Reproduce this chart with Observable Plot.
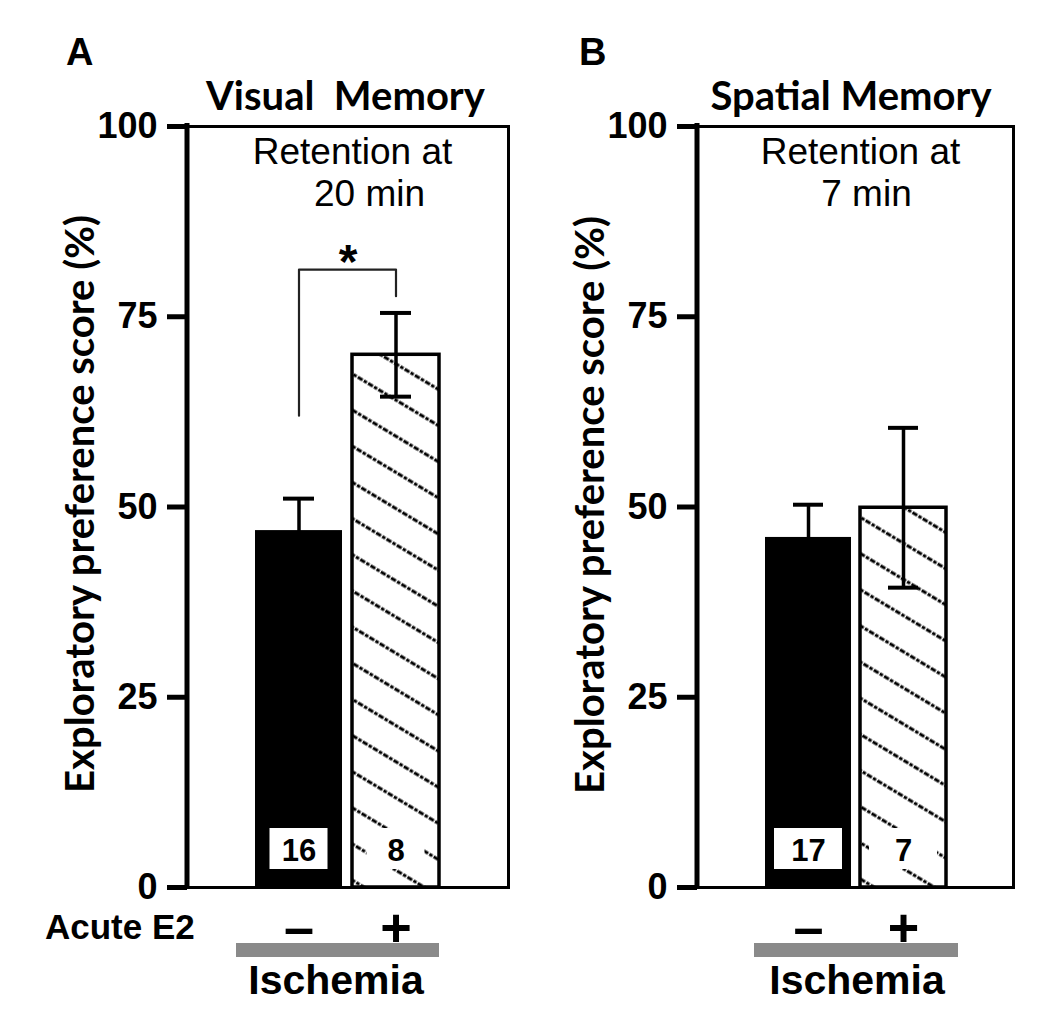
<!DOCTYPE html>
<html><head><meta charset="utf-8">
<script src="https://cdn.jsdelivr.net/npm/d3@7"></script>
<script src="https://cdn.jsdelivr.net/npm/@observablehq/plot@0.6"></script>
<style>
body{margin:0;background:#fff;}
#root{position:relative;width:1050px;height:1034px;overflow:hidden;background:#fff;}
#root > svg{position:absolute;top:0;}
</style></head><body>
<svg width="0" height="0" style="position:absolute">
<defs><pattern id="hatch" patternUnits="userSpaceOnUse" width="12" height="31" patternTransform="rotate(31)">
<line x1="-1" y1="15" x2="13" y2="15" stroke="#000" stroke-width="3" stroke-dasharray="3.5 1.5"/></pattern></defs></svg>
<div id="root"></div>
<script>
// ---- data ----
const groups = ["–", "+"];                 // Acute E2 (ischemia groups)
const visualMean = [46.9, 70.0];
const visualErr = [4.2, 5.5];
const visualN = [16, 8];
const spatialMean = [46.0, 49.9];
const spatialErr = [4.3, 10.5];
const spatialN = [17, 7];
const yTicks = [0, 25, 50, 75, 100];
const sigGroups = ["–", "–", "+", "+"];
const sigValues = [62, 81.2, 81.2, 77.7];
const sigLabel = "*";
const panelLetters = ["A", "B"];
const panelTitles = ["Visual  Memory", "Spatial Memory"];
const retentionLines = [["Retention at", "20 min"], ["Retention at", "7 min"]];
const yLabel = "Exploratory preference score (%)";
const xLabel = "Acute E2";
const groupLabel = "Ischemia";

const W = 1050, H = 1034;
const root = d3.select("#root");

function leftAxisLine(index, scales, values, dims) {
  return d3.create("svg:line")
    .attr("x1", dims.marginLeft).attr("x2", dims.marginLeft)
    .attr("y1", dims.marginTop - 3).attr("y2", dims.height - dims.marginBottom + 1.5)
    .attr("stroke", "#000").attr("stroke-width", 5).node();
}
function labelBoxes(boxW) {
  return (index, scales, values, dims) => {
    const x = scales.x;
    const bw = x.bandwidth ? x.bandwidth() : 0;
    const g = d3.create("svg:g");
    const yb = dims.height - dims.marginBottom;
    for (const grp of groups) {
      const cx = x(grp) + bw / 2;
      g.append("rect").attr("x", cx - boxW / 2).attr("y", yb - 59)
        .attr("width", boxW).attr("height", 41).attr("fill", "#fff");
    }
    return g.node();
  };
}

function makePanel(cfg) {
  const data = groups.map((g, i) => ({
    group: g, mean: cfg.mean[i], lo: cfg.mean[i] - cfg.err[i], hi: cfg.mean[i] + cfg.err[i], n: cfg.n[i]
  }));
  const marks = [
    Plot.barY([data[0]], {x: "group", y: "mean", fill: "#000"}),
    Plot.barY([data[1]], {x: "group", y: "mean", fill: "url(#hatch)", stroke: "#000", strokeWidth: 3.5}),
    Plot.ruleX(data, {x: "group", y1: "lo", y2: "hi", stroke: "#000", strokeWidth: 3.5}),
    Plot.tickY(data, {x: "group", y: "hi", stroke: "#000", strokeWidth: 4, insetLeft: 28, insetRight: 28}),
    Plot.tickY(data, {x: "group", y: "lo", stroke: "#000", strokeWidth: 4, insetLeft: 28, insetRight: 28}),
    labelBoxes(cfg.boxW),
    Plot.text(data, {x: "group", text: "n", frameAnchor: "bottom", lineAnchor: "bottom", dy: -27,
      fontSize: 31, fontWeight: "bold", fill: "#000"}),
    Plot.frame({stroke: "#000", strokeWidth: 3}),
    leftAxisLine,
    Plot.axisY({ticks: yTicks, tickSize: 20, tickPadding: 10, strokeWidth: 5, fontSize: 36,
      fontWeight: "bold", label: null, tickFormat: d => d}),
    Plot.axisX({tickSize: 0, tickPadding: 20, fontSize: 54, fontWeight: "bold", label: null}),
    Plot.text([cfg.lines[0]], {frameAnchor: "top", lineAnchor: "bottom", dx: cfg.noteDx[0], dy: 37,
      fontSize: 37, fill: "#000", text: d => d}),
    Plot.text([cfg.lines[1]], {frameAnchor: "top", lineAnchor: "bottom", dx: cfg.noteDx[1], dy: 79,
      fontSize: 37, fill: "#000", text: d => d})
  ];
  if (cfg.sig) {
    const pts = sigGroups.map((g, i) => ({group: g, v: sigValues[i]}));
    marks.push(Plot.line(pts, {x: "group", y: "v", stroke: "#222", strokeWidth: 2.2}));
    marks.push(Plot.text([{group: groups[0], v: sigValues[1]}], {x: "group", y: "v", text: () => sigLabel,
      lineAnchor: "bottom", dx: 49, dy: 8, fontSize: 48, fontWeight: "bold", fill: "#000"}));
  }
  const svg = Plot.plot({
    width: 530, height: H,
    marginTop: 126, marginBottom: 147, marginLeft: 187, marginRight: cfg.marginRight,
    x: {type: "band", domain: groups, paddingInner: 0.1, paddingOuter: 0.7},
    y: {domain: [0, 100]},
    style: {fontFamily: "'Liberation Sans', Arial, sans-serif", color: "#000", background: "transparent", overflow: "visible"},
    marks
  });
  d3.select(svg).style("left", cfg.left + "px").style("position", "absolute").style("top", "0px");
  root.node().appendChild(svg);
}

makePanel({left: 0, mean: visualMean, err: visualErr, n: visualN, marginRight: 22, boxW: 58,
  lines: retentionLines[0], noteDx: [4.5, 21.5], sig: true});
makePanel({left: 510, mean: spatialMean, err: spatialErr, n: spatialN, marginRight: 27, boxW: 68,
  lines: retentionLines[1], noteDx: [5, 11], sig: false});

// ---- overlay titles / captions ----
const ov = root.append("svg").attr("width", W).attr("height", H)
  .style("position", "absolute").style("left", "0px").style("top", "0px").style("pointer-events", "none");
const sans = "'Liberation Sans', Arial, sans-serif";
const lato = "Lato, 'Open Sans', sans-serif";
const layout = [
  {letterX: 66, titleX: 345.5, ylabX: 80, ylabY: 504, xlabX: 45, barX: 236, barW: 203, ischX: 336},
  {letterX: 579, titleX: 851, ylabX: 590, ylabY: 505, barX: 754, barW: 204, ischX: 857}
];
layout.forEach((L, i) => {
  ov.append("text").attr("x", L.letterX).attr("y", 65).attr("font-family", sans).attr("font-weight", "bold")
    .attr("font-size", 38).text(panelLetters[i]);
  ov.append("text").attr("x", L.titleX).attr("y", 110).attr("text-anchor", "middle").attr("font-family", lato)
    .attr("font-weight", "bold").attr("font-size", 40).style("white-space", "pre").text(panelTitles[i]);
  ov.append("text").attr("transform", `translate(${L.ylabX},${L.ylabY}) rotate(-90)`)
    .attr("text-anchor", "middle").attr("dy", "0.35em").attr("font-family", lato).attr("font-weight", "bold")
    .attr("font-size", 40).text(yLabel);
  ov.append("rect").attr("x", L.barX).attr("y", 943).attr("width", L.barW).attr("height", 14).attr("fill", "#8a8a8a");
  ov.append("text").attr("x", L.ischX).attr("y", 994).attr("text-anchor", "middle").attr("font-family", sans)
    .attr("font-weight", "bold").attr("font-size", 41).text(groupLabel);
});
ov.append("text").attr("x", layout[0].xlabX).attr("y", 939).attr("font-family", sans).attr("font-weight", "bold")
  .attr("font-size", 35).text(xLabel);
</script>
</body></html>
